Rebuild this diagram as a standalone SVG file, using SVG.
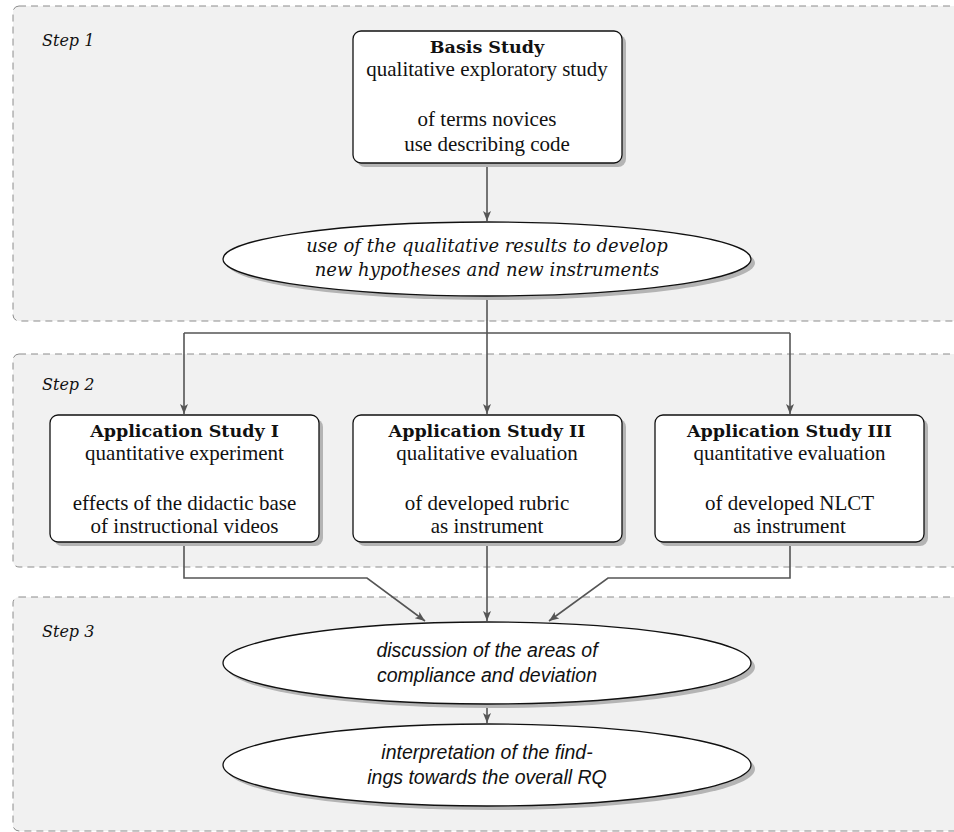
<svg xmlns="http://www.w3.org/2000/svg" width="954" height="832" viewBox="0 0 954 832">
<style>
.step{fill:#f1f1f1;stroke:#8c8c8c;stroke-width:1;stroke-dasharray:7 5}
.steplbl{font-family:"DejaVu Serif","Liberation Serif",serif;font-style:italic;font-size:16px;fill:#111}
.box{fill:#fff;stroke:#111;stroke-width:1.3}
.shadow{fill:#b4b4b4}
.t{font-family:"Liberation Serif",serif;font-size:21px;fill:#111;text-anchor:middle}
.b{font-family:"DejaVu Serif","Liberation Serif",serif;font-weight:bold;font-size:17.5px}
.ei{font-family:"DejaVu Serif","Liberation Serif",serif;font-style:italic;font-size:18px;fill:#111;text-anchor:middle}
.es{font-family:"Liberation Sans",Arial,sans-serif;font-style:italic;font-size:19.5px;fill:#111;text-anchor:middle}
.c{fill:none;stroke:#555;stroke-width:1.6}
</style>
<defs>
<marker id="ah" viewBox="0 0 10 8" refX="10" refY="4" markerWidth="10" markerHeight="8" markerUnits="userSpaceOnUse" orient="auto">
<path d="M0,0 L10,4 L0,8 L2.5,4 z" fill="#555"/>
</marker>
</defs>

<g id="step1">
<rect class="step" x="13" y="6" width="960" height="315" rx="6"/>
<text class="steplbl" x="42" y="46">Step 1</text>
</g>
<g id="step2">
<rect class="step" x="13" y="354" width="960" height="213" rx="6"/>
<text class="steplbl" x="42" y="390">Step 2</text>
</g>
<g id="step3">
<rect class="step" x="13" y="597" width="960" height="234" rx="6"/>
<text class="steplbl" x="42" y="637">Step 3</text>
</g>

<g id="connectors">
<path class="c" d="M487,163 V221" marker-end="url(#ah)"/>
<path class="c" d="M487,296 V333"/>
<path class="c" d="M184,333 H790"/>
<path class="c" d="M184,333 V414" marker-end="url(#ah)"/>
<path class="c" d="M487,333 V414" marker-end="url(#ah)"/>
<path class="c" d="M790,333 V414" marker-end="url(#ah)"/>
<path class="c" d="M184,542 V578 H367 L425,621" marker-end="url(#ah)"/>
<path class="c" d="M487,542 V621" marker-end="url(#ah)"/>
<path class="c" d="M790,542 V578 H608 L549,621" marker-end="url(#ah)"/>
<path class="c" d="M487,705 V723" marker-end="url(#ah)"/>
</g>

<g id="basis">
<rect class="shadow" x="357" y="35" width="269" height="132" rx="8"/>
<rect class="box" x="353" y="31" width="269" height="132" rx="8"/>
<text class="t b" x="487" y="53">Basis Study</text>
<text class="t" x="487" y="76">qualitative exploratory study</text>
<text class="t" x="487" y="126">of terms novices</text>
<text class="t" x="487" y="151">use describing code</text>
</g>

<g id="hypotheses">
<ellipse class="shadow" cx="491" cy="263" rx="264" ry="37"/>
<ellipse class="box" cx="487" cy="259" rx="264" ry="37"/>
<text class="ei" x="487" y="252">use of the qualitative results to develop</text>
<text class="ei" x="487" y="276">new hypotheses and new instruments</text>
</g>

<g id="app1">
<rect class="shadow" x="54" y="419" width="269" height="127" rx="8"/>
<rect class="box" x="50" y="415" width="269" height="127" rx="8"/>
<text class="t b" x="184.5" y="437">Application Study I</text>
<text class="t" x="184.5" y="460">quantitative experiment</text>
<text class="t" x="184.5" y="510">effects of the didactic base</text>
<text class="t" x="184.5" y="533">of instructional videos</text>
</g>

<g id="app2">
<rect class="shadow" x="357" y="419" width="269" height="127" rx="8"/>
<rect class="box" x="353" y="415" width="269" height="127" rx="8"/>
<text class="t b" x="487" y="437">Application Study II</text>
<text class="t" x="487" y="460">qualitative evaluation</text>
<text class="t" x="487" y="510">of developed rubric</text>
<text class="t" x="487" y="533">as instrument</text>
</g>

<g id="app3">
<rect class="shadow" x="659" y="419" width="269" height="127" rx="8"/>
<rect class="box" x="655" y="415" width="269" height="127" rx="8"/>
<text class="t b" x="789.5" y="437">Application Study III</text>
<text class="t" x="789.5" y="460">quantitative evaluation</text>
<text class="t" x="789.5" y="510">of developed NLCT</text>
<text class="t" x="789.5" y="533">as instrument</text>
</g>

<g id="discussion">
<ellipse class="shadow" cx="491" cy="667" rx="264" ry="41"/>
<ellipse class="box" cx="487" cy="663" rx="264" ry="41"/>
<text class="es" x="487" y="657">discussion of the areas of</text>
<text class="es" x="487" y="682">compliance and deviation</text>
</g>

<g id="interpretation">
<ellipse class="shadow" cx="491" cy="769" rx="264" ry="41"/>
<ellipse class="box" cx="487" cy="765" rx="264" ry="41"/>
<text class="es" x="487" y="759">interpretation of the find-</text>
<text class="es" x="487" y="784">ings towards the overall RQ</text>
</g>
</svg>
